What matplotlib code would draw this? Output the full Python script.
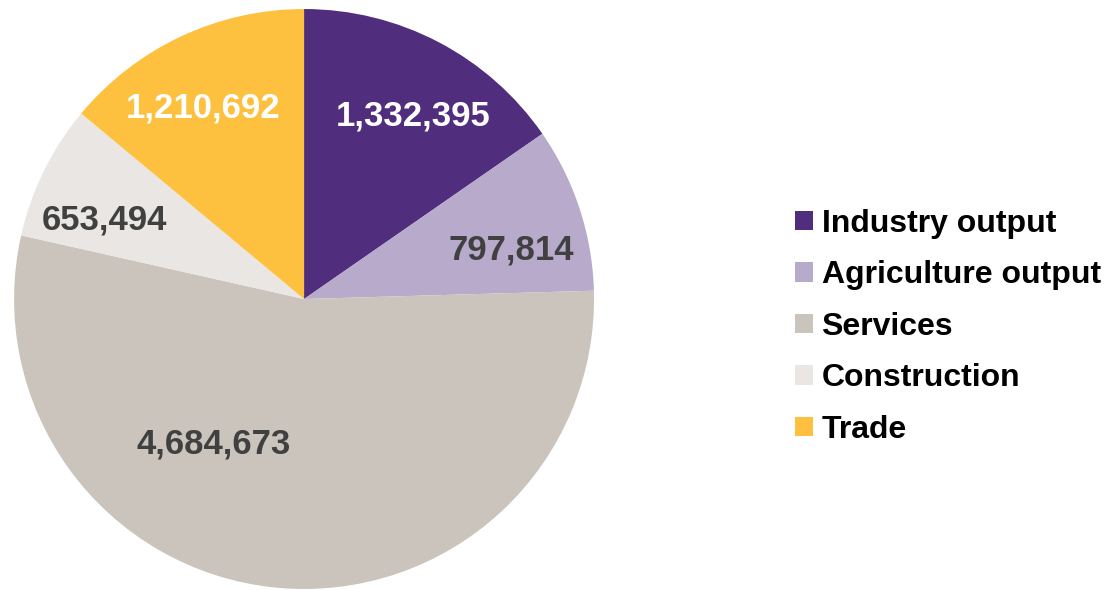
import numpy as np
import matplotlib
matplotlib.use("Agg")
import matplotlib.pyplot as plt

# sector output values
sectors = ["Industry output", "Agriculture output", "Services", "Construction", "Trade"]
values = [1332395, 797814, 4684673, 653494, 1210692]
colors = ["#512D7E", "#B7AACB", "#CBC4BD", "#E9E6E3", "#FDC13F"]
label_colors = ["white", "#404040", "#404040", "#404040", "white"]

# label layout: angle shift from wedge middle (deg), distance from centre
label_shift = [-3.2, -4.9, -26.3, 4.5, 2.8]
label_dist = [0.735, 0.735, 0.59, 0.74, 0.745]

plt.rcParams['font.family'] = ['Liberation Sans', 'DejaVu Sans']

fig = plt.figure(figsize=(11.15, 5.9), dpi=100)
ax = fig.add_axes([0.0126, 0.0017, 0.5202, 0.983])

wedges, texts = ax.pie(values, colors=colors, startangle=90, counterclock=False,
                       wedgeprops=dict(linewidth=0))

for w, v, c, s, d in zip(wedges, values, label_colors, label_shift, label_dist):
    w.set_clip_on(False)
    mid = np.deg2rad((w.theta1 + w.theta2) / 2.0 + s)
    ax.text(d * np.cos(mid), d * np.sin(mid), "{:,}".format(v),
            ha='center', va='center', color=c, fontsize=25, fontweight='bold')

ax.set_xlim(-1, 1)
ax.set_ylim(-1, 1)

leg = fig.legend(wedges, sectors, loc='center left',
                 bbox_to_anchor=(0.713, 0.446), frameon=False,
                 prop=dict(size=23, weight='bold'),
                 handlelength=0.55, handleheight=0.55, handletextpad=0.28,
                 labelspacing=0.675, borderpad=0, borderaxespad=0)

fig.savefig("out.png", dpi=100)
